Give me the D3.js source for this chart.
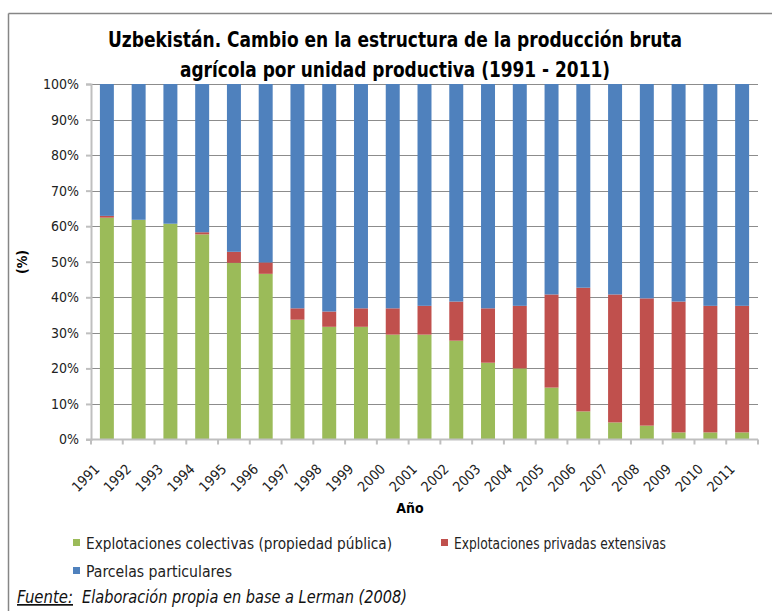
<html>
<head>
<meta charset="utf-8">
<script src="https://d3js.org/d3.v7.min.js"></script>
<style>
  body { margin: 0; background: #fff; }
  text { font-family: "Liberation Sans Narrow", "Arial Narrow", "DejaVu Sans Condensed", sans-serif; }
</style>
</head>
<body>
<svg id="A" width="772" height="611"></svg>
<script>
// data (percent)
const years = ["1991","1992","1993","1994","1995","1996","1997","1998","1999","2000","2001",
               "2002","2003","2004","2005","2006","2007","2008","2009","2010","2011"];
const colectivas = [62.4, 61.8, 60.7, 57.7, 49.7, 46.6, 33.7, 31.7, 31.7, 29.5, 29.5,
                    27.8, 21.6, 20.0, 14.6, 7.9, 4.8, 3.9, 2.0, 2.0, 2.0];
const privadas = [0.5, 0, 0, 0.6, 3.1, 3.2, 3.2, 4.3, 5.2, 7.4, 8.1,
                  11.0, 15.3, 17.6, 26.2, 34.8, 36.0, 35.8, 36.8, 35.6, 35.6];
const parcelas = years.map((y, i) => 100 - colectivas[i] - privadas[i]);
const yTicks = [0, 10, 20, 30, 40, 50, 60, 70, 80, 90, 100];

const seriesNames = ["Explotaciones colectivas (propiedad pública)", "Explotaciones privadas extensivas", "Parcelas particulares"];
const colors = ["#9BBB59", "#C0504D", "#4F81BD"];

let svg = d3.select("svg#A");

// outer frame (only top and left visible)
svg.append("line").attr("x1", 8.5).attr("x2", 772).attr("y1", 13.5).attr("y2", 13.5)
    .attr("stroke", "#868686").attr("stroke-width", 1.5);
svg.append("line").attr("x1", 8.5).attr("x2", 8.5).attr("y1", 13.5).attr("y2", 611)
    .attr("stroke", "#868686").attr("stroke-width", 1.5);

const pLeft = 91, pRight = 758, pTop = 84, pBottom = 439.5;

const x = d3.scaleBand().domain(years).range([pLeft, pRight]).paddingInner(0.56).paddingOuter(0.28);
const y = d3.scaleLinear().domain([0, 100]).range([pBottom, pTop]);

// gridlines
svg.append("g").selectAll("line").data(yTicks.filter(t => t > 0)).join("line")
    .attr("x1", pLeft).attr("x2", pRight)
    .attr("y1", d => Math.round(y(d)) + 0.5).attr("y2", d => Math.round(y(d)) + 0.5)
    .attr("stroke", "#8c8c8c").attr("stroke-width", 1);

// stacked bars
const table = years.map((yr, i) => ({ year: yr, c: colectivas[i], p: privadas[i], q: parcelas[i] }));
const stack = d3.stack().keys(["c", "p", "q"])(table);
svg.append("g").selectAll("g").data(stack).join("g")
    .attr("fill", (d, i) => colors[i])
    .selectAll("rect").data(d => d).join("rect")
    .attr("x", d => x(d.data.year))
    .attr("width", x.bandwidth())
    .attr("y", d => y(d[1]))
    .attr("height", d => y(d[0]) - y(d[1]));

// y axis
const yAxis = svg.append("g").attr("transform", `translate(${pLeft},0)`)
    .call(d3.axisLeft(y).tickValues(yTicks).tickFormat(d => d + "%").tickSize(5).tickPadding(7));
yAxis.select(".domain").attr("stroke", "#bfbfbf").attr("stroke-width", 2);
yAxis.selectAll(".tick line").attr("stroke", "#bfbfbf").attr("stroke-width", 2);
yAxis.selectAll("text").attr("font-family", "Liberation Sans, Arial, sans-serif")
    .attr("font-size", 14).attr("fill", "#222");

// x axis
const step = x.step();
const xAxis = svg.append("g").attr("transform", `translate(0,${pBottom})`);
xAxis.append("line").attr("x1", pLeft - 5).attr("x2", pRight).attr("y1", 0).attr("y2", 0)
    .attr("stroke", "#bfbfbf").attr("stroke-width", 2);
xAxis.selectAll("line.tk").data(d3.range(years.length + 1)).join("line").attr("class", "tk")
    .attr("x1", i => pLeft + i * step).attr("x2", i => pLeft + i * step)
    .attr("y1", 0).attr("y2", 5)
    .attr("stroke", "#bfbfbf").attr("stroke-width", 2);
xAxis.selectAll("text").data(years).join("text")
    .attr("transform", d => `translate(${x(d) + x.bandwidth() / 2 - 10},${27}) rotate(-45)`)
    .attr("text-anchor", "end").attr("dy", "0.35em")
    .attr("font-family", "Liberation Sans, Arial, sans-serif")
    .attr("font-size", 14).attr("fill", "#222")
    .text(d => d);

// title
svg.append("text").attr("x", 395).attr("y", 47).attr("text-anchor", "middle")
    .attr("font-size", 21).attr("font-weight", "bold").attr("fill", "#000")
    .attr("textLength", 574).attr("lengthAdjust", "spacingAndGlyphs")
    .text("Uzbekistán. Cambio en la estructura de la producción bruta");
svg.append("text").attr("x", 395).attr("y", 77).attr("text-anchor", "middle")
    .attr("font-size", 21).attr("font-weight", "bold").attr("fill", "#000")
    .attr("textLength", 430).attr("lengthAdjust", "spacingAndGlyphs")
    .text("agrícola por unidad productiva (1991 - 2011)");

// axis titles
svg.append("text").attr("x", 410).attr("y", 513).attr("text-anchor", "middle")
    .attr("font-size", 14).attr("font-weight", "bold").text("Año");
svg.append("text").attr("transform", "translate(27,262) rotate(-90)").attr("text-anchor", "middle")
    .attr("font-size", 14).attr("font-weight", "bold").text("(%)");

// legend
const legendPos = [[73, 549], [441, 549], [73, 577]];
const legendLen = [306, 212, 146];
const lg = svg.append("g").selectAll("g").data(seriesNames).join("g")
    .attr("transform", (d, i) => `translate(${legendPos[i][0]},${legendPos[i][1]})`);
lg.append("rect").attr("x", 0).attr("y", -10).attr("width", 7).attr("height", 7)
    .attr("fill", (d, i) => colors[i]);
lg.append("text").attr("x", 13).attr("y", 0)
    .attr("font-size", 16).attr("fill", "#222")
    .attr("textLength", (d, i) => legendLen[i]).attr("lengthAdjust", "spacingAndGlyphs")
    .text(d => d);

// source
const src = svg.append("text").attr("x", 17).attr("y", 603)
    .attr("font-size", 17).attr("font-style", "italic").attr("fill", "#111");
src.append("tspan").attr("text-decoration", "underline")
    .attr("textLength", 56).attr("lengthAdjust", "spacingAndGlyphs").text("Fuente:");
src.append("tspan").attr("x", 82)
    .attr("textLength", 325).attr("lengthAdjust", "spacingAndGlyphs")
    .text("Elaboración propia en base a Lerman (2008)");
</script>
</body>
</html>
